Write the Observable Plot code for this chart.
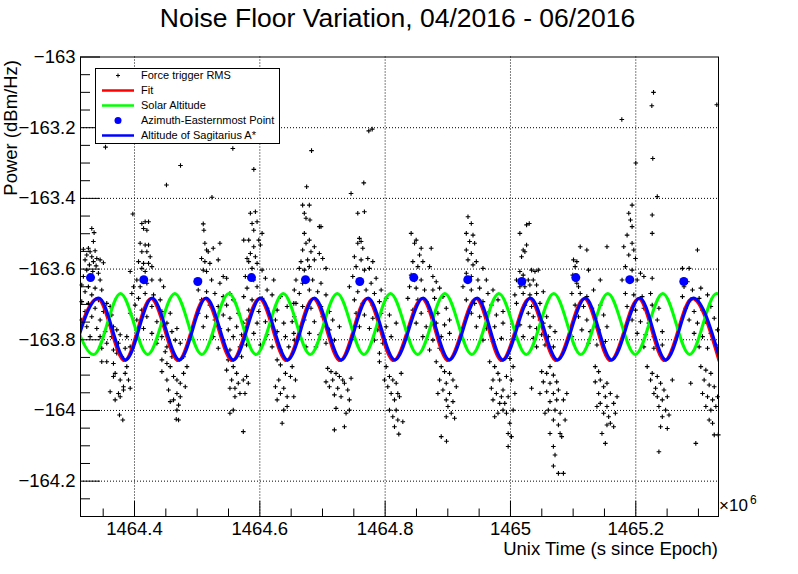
<!DOCTYPE html>
<html><head><meta charset="utf-8">
<script src="https://cdn.jsdelivr.net/npm/d3@7"></script>
<script src="https://cdn.jsdelivr.net/npm/@observablehq/plot@0.6"></script>
<style>body{margin:0;background:#fff;} svg{display:block}</style>
</head><body><div id="chart"></div>
<script>
// ---------- axes ----------
const xDomain = [1464.3138, 1465.332];
const yDomain = [-164.3, -163];
const xMajor = [1464.4, 1464.6, 1464.8, 1465, 1465.2];
const xTickLabels = ["1464.4", "1464.6", "1464.8", "1465", "1465.2"];
const xMinor = [1464.35, 1464.45, 1464.5, 1464.55, 1464.65, 1464.7, 1464.75, 1464.85, 1464.9, 1464.95, 1465.05, 1465.1, 1465.15, 1465.25, 1465.3];
const yMajor = [-163, -163.2, -163.4, -163.6, -163.8, -164, -164.2];
const yTickLabels = ["\u2212163", "\u2212163.2", "\u2212163.4", "\u2212163.6", "\u2212163.8", "\u2212164", "\u2212164.2"];
const yMinor = [-163.05, -163.1, -163.15, -163.25, -163.3, -163.35, -163.45, -163.5, -163.55, -163.65, -163.7, -163.75, -163.85, -163.9, -163.95, -164.05, -164.1, -164.15, -164.25];

// ---------- Altitude of Sagittarius A* (extrema) ----------
const sgrTime = [1464.3000, 1464.3430, 1464.3860, 1464.4282, 1464.4718, 1464.5144, 1464.5580, 1464.6011, 1464.6444, 1464.6872, 1464.7300, 1464.7729, 1464.8155, 1464.8607, 1464.9025, 1464.9469, 1464.9880, 1465.0320, 1465.0752, 1465.1197, 1465.1615, 1465.2064, 1465.2480, 1465.2916, 1465.3347];
const sgrPower = [-163.857, -163.682, -163.857, -163.682, -163.857, -163.682, -163.857, -163.682, -163.857, -163.682, -163.857, -163.682, -163.857, -163.682, -163.857, -163.682, -163.857, -163.682, -163.857, -163.682, -163.857, -163.682, -163.857, -163.682, -163.857];
// ---------- Fit ----------
const fitTime = [1464.2980, 1464.3410, 1464.3840, 1464.4262, 1464.4698, 1464.5124, 1464.5560, 1464.5991, 1464.6424, 1464.6852, 1464.7280, 1464.7709, 1464.8135, 1464.8587, 1464.9005, 1464.9449, 1464.9860, 1465.0300, 1465.0732, 1465.1177, 1465.1595, 1465.2044, 1465.2460, 1465.2896, 1465.3327];
const fitPower = [-163.859, -163.683, -163.859, -163.683, -163.859, -163.683, -163.859, -163.683, -163.859, -163.683, -163.859, -163.683, -163.859, -163.683, -163.859, -163.683, -163.859, -163.683, -163.859, -163.683, -163.859, -163.683, -163.859, -163.683, -163.859];
// ---------- Solar altitude ----------
const solarTime = [1464.2915, 1464.3350, 1464.3776, 1464.4210, 1464.4643, 1464.5074, 1464.5505, 1464.5939, 1464.6373, 1464.6804, 1464.7235, 1464.7661, 1464.8085, 1464.8519, 1464.8952, 1464.9383, 1464.9814, 1465.0252, 1465.0691, 1465.1122, 1465.1553, 1465.1992, 1465.2431, 1465.2860, 1465.3288, 1465.3719];
const solarPower = [-163.669, -163.842, -163.669, -163.842, -163.669, -163.842, -163.669, -163.842, -163.669, -163.842, -163.669, -163.842, -163.669, -163.842, -163.669, -163.842, -163.669, -163.842, -163.669, -163.842, -163.669, -163.842, -163.669, -163.842, -163.669, -163.842];
// ---------- Azimuth-Easternmost Point ----------
const azTime = [1464.3298, 1464.4148, 1464.5010, 1464.5867, 1464.6729, 1464.7595, 1464.8457, 1464.9319, 1465.0181, 1465.1043, 1465.1904, 1465.2766];
const azPower = [-163.624, -163.630, -163.635, -163.624, -163.630, -163.635, -163.624, -163.630, -163.635, -163.624, -163.630, -163.635];

// ---------- Force trigger RMS (time in 1e6 s, power in dBm/Hz) ----------
const rmsDay01 = [[1464.3318,-163.485],[1464.3355,-163.497],[1464.3344,-163.522],[1464.3184,-163.544],[1464.3264,-163.541],[1464.3291,-163.551],[1464.3371,-163.548],[1464.3238,-163.560],[1464.3318,-163.565],[1464.3398,-163.570],[1464.3211,-163.574],[1464.3344,-163.579],[1464.3451,-163.574],[1464.3280,-163.588],[1464.3387,-163.591],[1464.3504,-163.582],[1464.3238,-163.603],[1464.3334,-163.607],[1464.3424,-163.612],[1464.3184,-163.621],[1464.3451,-163.631],[1464.3158,-163.645],[1464.3264,-163.650],[1464.3371,-163.654],[1464.3211,-163.664],[1464.3318,-163.673],[1464.3477,-163.659],[1464.3424,-163.687],[1464.3158,-163.692],[1464.3264,-163.697],[1464.3557,-163.697],[1464.3371,-163.711],[1464.3211,-163.720],[1464.3504,-163.720],[1464.3611,-163.706],[1464.3318,-163.735],[1464.3451,-163.744],[1464.3637,-163.730],[1464.3158,-163.744],[1464.3584,-163.753],[1464.3238,-163.763],[1464.3398,-163.768],[1464.3664,-163.763],[1464.3531,-163.777],[1464.3717,-163.772],[1464.3291,-163.791],[1464.3451,-163.791],[1464.3637,-163.791],[1464.3771,-163.786],[1464.3877,-163.791],[1464.3557,-163.810],[1464.3744,-163.810],[1464.3477,-163.824],[1464.3664,-163.829],[1464.3851,-163.824],[1464.3931,-163.820],[1464.3477,-163.862],[1464.3557,-163.862],[1464.3664,-163.867],[1464.3717,-163.838],[1464.3797,-163.848],[1464.3691,-163.895],[1464.3771,-163.914],[1464.3824,-163.933],[1464.3744,-163.952],[1464.3691,-163.970],[1464.3771,-163.961],[1464.3824,-163.942],[1464.3904,-163.914],[1464.3877,-163.876],[1464.3611,-163.947],[1464.3931,-163.937],[1464.3760,-164.013],[1464.3813,-164.027],[1464.3664,-163.904],[1464.3851,-163.895]];
const rmsDay02 = [[1464.3973,-163.444],[1464.4117,-163.471],[1464.4170,-163.466],[1464.4224,-163.466],[1464.4144,-163.485],[1464.4197,-163.490],[1464.4090,-163.527],[1464.4170,-163.532],[1464.4224,-163.532],[1464.4117,-163.551],[1464.4197,-163.551],[1464.4250,-163.565],[1464.4064,-163.579],[1464.4144,-163.584],[1464.4224,-163.584],[1464.4277,-163.593],[1464.4117,-163.598],[1464.4170,-163.607],[1464.3931,-163.607],[1464.4037,-163.631],[1464.3984,-163.650],[1464.4090,-163.650],[1464.4197,-163.640],[1464.4277,-163.631],[1464.4410,-163.631],[1464.4464,-163.650],[1464.3957,-163.669],[1464.4064,-163.683],[1464.4170,-163.669],[1464.4304,-163.673],[1464.4410,-163.687],[1464.4010,-163.702],[1464.4117,-163.716],[1464.4277,-163.706],[1464.3931,-163.725],[1464.4197,-163.735],[1464.4437,-163.720],[1464.4570,-163.725],[1464.4037,-163.744],[1464.4357,-163.749],[1464.4517,-163.753],[1464.4144,-163.768],[1464.4277,-163.782],[1464.4437,-163.791],[1464.4597,-163.777],[1464.4677,-163.768],[1464.4357,-163.810],[1464.4517,-163.820],[1464.4650,-163.801],[1464.4730,-163.810],[1464.4490,-163.834],[1464.4437,-163.857],[1464.4517,-163.867],[1464.4570,-163.876],[1464.4623,-163.904],[1464.4677,-163.914],[1464.4730,-163.923],[1464.4543,-163.942],[1464.4677,-163.952],[1464.4730,-163.961],[1464.4623,-163.970],[1464.4570,-163.975],[1464.4703,-163.985],[1464.4677,-163.999],[1464.4703,-164.027],[1464.4666,-164.025],[1464.4783,-163.895],[1464.4837,-163.876],[1464.4437,-163.890],[1464.4597,-163.848],[1464.4783,-163.848],[1464.4517,-163.914],[1464.4810,-163.933]];
const rmsDay03 = [[1464.5097,-163.472],[1464.5107,-163.490],[1464.5123,-163.527],[1464.5150,-163.546],[1464.5176,-163.551],[1464.5256,-163.541],[1464.5363,-163.527],[1464.5070,-163.570],[1464.5123,-163.579],[1464.5203,-163.584],[1464.5336,-163.574],[1464.5097,-163.603],[1464.5150,-163.607],[1464.5416,-163.621],[1464.5043,-163.631],[1464.5230,-163.631],[1464.5363,-163.640],[1464.5470,-163.626],[1464.5017,-163.659],[1464.5150,-163.664],[1464.5283,-163.669],[1464.5416,-163.678],[1464.5523,-163.669],[1464.5070,-163.687],[1464.5203,-163.702],[1464.5336,-163.706],[1464.5470,-163.702],[1464.5576,-163.687],[1464.5017,-163.725],[1464.5150,-163.735],[1464.5283,-163.744],[1464.5416,-163.730],[1464.5523,-163.739],[1464.5656,-163.725],[1464.5097,-163.763],[1464.5363,-163.768],[1464.5496,-163.772],[1464.5630,-163.763],[1464.5736,-163.753],[1464.5256,-163.791],[1464.5416,-163.801],[1464.5576,-163.791],[1464.5709,-163.786],[1464.5336,-163.824],[1464.5523,-163.829],[1464.5683,-163.820],[1464.5789,-163.815],[1464.5496,-163.857],[1464.5576,-163.876],[1464.5630,-163.895],[1464.5550,-163.914],[1464.5656,-163.923],[1464.5523,-163.937],[1464.5683,-163.952],[1464.5603,-163.961],[1464.5736,-163.914],[1464.5789,-163.904],[1464.5576,-163.999],[1464.5523,-164.008],[1464.5736,-164.060],[1464.5816,-163.923],[1464.5470,-163.886],[1464.5709,-163.848],[1464.5603,-163.937],[1464.5763,-163.952]];
const rmsDay04 = [[1464.5849,-163.442],[1464.5929,-163.438],[1464.5876,-163.471],[1464.5956,-163.466],[1464.5903,-163.490],[1464.6036,-163.499],[1464.5743,-163.518],[1464.5823,-163.518],[1464.5983,-163.518],[1464.5903,-163.537],[1464.6009,-163.532],[1464.5849,-163.556],[1464.5929,-163.565],[1464.5796,-163.570],[1464.5823,-163.579],[1464.5956,-163.584],[1464.5876,-163.598],[1464.6036,-163.603],[1464.5769,-163.621],[1464.5903,-163.631],[1464.6089,-163.626],[1464.6222,-163.631],[1464.5796,-163.654],[1464.5956,-163.650],[1464.6116,-163.659],[1464.5743,-163.678],[1464.5876,-163.687],[1464.6036,-163.683],[1464.6196,-163.673],[1464.6329,-163.678],[1464.5823,-163.716],[1464.5983,-163.720],[1464.6116,-163.711],[1464.6276,-163.716],[1464.6436,-163.706],[1464.6542,-163.697],[1464.5796,-163.744],[1464.5956,-163.753],[1464.6089,-163.749],[1464.6249,-163.744],[1464.6382,-163.753],[1464.6516,-163.749],[1464.5903,-163.782],[1464.6116,-163.786],[1464.6276,-163.777],[1464.6409,-163.791],[1464.6542,-163.782],[1464.6009,-163.815],[1464.6196,-163.820],[1464.6329,-163.829],[1464.6462,-163.820],[1464.6276,-163.857],[1464.6329,-163.871],[1464.6409,-163.895],[1464.6489,-163.904],[1464.6302,-163.914],[1464.6382,-163.937],[1464.6329,-163.952],[1464.6436,-163.961],[1464.6276,-163.970],[1464.6542,-163.961],[1464.6382,-163.999],[1464.6436,-163.989],[1464.6356,-164.036],[1464.6249,-163.933],[1464.6516,-163.876],[1464.6569,-163.914]];
const rmsDay05 = [[1464.6747,-163.367],[1464.6683,-163.419],[1464.6710,-163.442],[1464.6790,-163.419],[1464.6737,-163.456],[1464.6800,-163.461],[1464.6950,-163.480],[1464.6976,-163.480],[1464.6710,-163.499],[1464.6737,-163.527],[1464.6790,-163.518],[1464.6870,-163.537],[1464.6683,-163.546],[1464.6816,-163.551],[1464.6950,-163.556],[1464.6657,-163.579],[1464.6763,-163.574],[1464.6870,-163.574],[1464.7003,-163.570],[1464.6630,-163.598],[1464.6710,-163.603],[1464.6790,-163.593],[1464.7056,-163.598],[1464.6577,-163.631],[1464.6683,-163.640],[1464.6843,-163.631],[1464.6976,-163.640],[1464.6550,-163.659],[1464.6630,-163.669],[1464.6790,-163.659],[1464.6923,-163.664],[1464.7056,-163.673],[1464.6577,-163.697],[1464.6683,-163.706],[1464.6816,-163.711],[1464.6976,-163.706],[1464.7110,-163.720],[1464.6550,-163.735],[1464.6710,-163.744],[1464.6870,-163.749],[1464.7003,-163.735],[1464.7163,-163.744],[1464.6630,-163.772],[1464.6790,-163.782],[1464.6950,-163.786],[1464.7110,-163.772],[1464.7270,-163.763],[1464.6550,-163.801],[1464.6737,-163.820],[1464.6896,-163.820],[1464.7056,-163.810],[1464.7190,-163.801],[1464.7083,-163.881],[1464.7136,-163.890],[1464.7216,-163.895],[1464.7270,-163.904],[1464.7163,-163.914],[1464.7323,-163.914],[1464.7110,-163.933],[1464.7243,-163.937],[1464.7350,-163.923],[1464.7190,-163.956],[1464.7296,-163.961],[1464.7403,-163.942],[1464.7429,-163.970],[1464.7216,-163.994],[1464.7429,-163.999],[1464.7376,-164.008],[1464.7190,-164.055],[1464.7350,-164.046],[1464.7056,-163.919],[1464.7456,-163.909]];
const rmsDay06 = [[1464.7456,-163.386],[1464.7563,-163.442],[1464.7669,-163.438],[1464.7589,-163.513],[1464.7616,-163.522],[1464.7563,-163.527],[1464.7643,-163.541],[1464.7509,-163.565],[1464.7616,-163.574],[1464.7723,-163.570],[1464.7803,-163.579],[1464.7536,-163.593],[1464.7669,-163.603],[1464.7749,-163.598],[1464.7483,-163.621],[1464.7616,-163.631],[1464.7776,-163.640],[1464.7856,-163.626],[1464.7429,-163.650],[1464.7563,-163.664],[1464.7696,-163.659],[1464.7829,-163.669],[1464.7936,-163.659],[1464.7509,-163.687],[1464.7643,-163.697],[1464.7803,-163.702],[1464.7909,-163.692],[1464.8016,-163.683],[1464.7536,-163.725],[1464.7669,-163.730],[1464.7803,-163.739],[1464.7936,-163.725],[1464.8069,-163.730],[1464.7589,-163.763],[1464.7749,-163.768],[1464.7882,-163.772],[1464.8016,-163.763],[1464.8176,-163.753],[1464.7829,-163.801],[1464.7962,-163.810],[1464.8096,-163.791],[1464.7909,-163.838],[1464.7909,-163.862],[1464.8016,-163.876],[1464.8069,-163.904],[1464.8122,-163.914],[1464.8042,-163.933],[1464.8176,-163.923],[1464.8096,-163.952],[1464.8202,-163.952],[1464.8149,-163.970],[1464.8229,-163.961],[1464.8069,-163.999],[1464.8176,-163.999],[1464.8122,-164.018],[1464.8202,-164.027],[1464.8282,-164.032],[1464.8149,-164.046],[1464.7989,-163.914],[1464.8256,-163.895]];
const rmsDay07 = [[1464.8415,-163.499],[1464.8469,-163.527],[1464.8495,-163.518],[1464.8575,-163.541],[1464.8735,-163.541],[1464.8549,-163.560],[1464.8442,-163.579],[1464.8522,-163.593],[1464.8602,-163.579],[1464.8709,-163.593],[1464.8415,-163.617],[1464.8469,-163.631],[1464.8575,-163.631],[1464.8762,-163.621],[1464.8815,-163.636],[1464.8389,-163.650],[1464.8495,-163.654],[1464.8629,-163.659],[1464.8762,-163.659],[1464.8869,-163.654],[1464.8362,-163.683],[1464.8522,-163.687],[1464.8655,-163.692],[1464.8789,-163.683],[1464.8922,-163.678],[1464.8442,-163.716],[1464.8575,-163.725],[1464.8709,-163.720],[1464.8842,-163.725],[1464.8975,-163.711],[1464.8495,-163.753],[1464.8655,-163.763],[1464.8815,-163.753],[1464.8948,-163.758],[1464.9028,-163.744],[1464.8602,-163.791],[1464.8762,-163.801],[1464.8895,-163.791],[1464.9028,-163.782],[1464.8709,-163.829],[1464.8869,-163.824],[1464.8815,-163.862],[1464.8895,-163.876],[1464.8948,-163.890],[1464.9028,-163.895],[1464.8869,-163.914],[1464.8975,-163.923],[1464.9082,-163.914],[1464.8922,-163.942],[1464.9028,-163.952],[1464.8975,-163.970],[1464.9082,-163.975],[1464.9002,-163.989],[1464.9055,-164.008],[1464.8975,-164.018],[1464.9108,-164.022],[1464.8895,-164.074],[1464.8842,-163.952],[1464.9135,-163.933]];
const rmsDay08 = [[1464.9322,-163.452],[1464.9375,-163.471],[1464.9295,-163.499],[1464.9402,-163.504],[1464.9348,-163.522],[1464.9428,-163.527],[1464.9295,-163.546],[1464.9375,-163.556],[1464.9322,-163.574],[1464.9402,-163.588],[1464.9455,-163.579],[1464.9561,-163.598],[1464.9295,-163.612],[1464.9375,-163.621],[1464.9481,-163.631],[1464.9615,-163.631],[1464.9242,-163.650],[1464.9375,-163.659],[1464.9508,-163.654],[1464.9641,-163.669],[1464.9721,-163.659],[1464.9295,-163.687],[1464.9428,-163.697],[1464.9561,-163.692],[1464.9695,-163.702],[1464.9801,-163.687],[1464.9375,-163.725],[1464.9508,-163.735],[1464.9641,-163.725],[1464.9775,-163.730],[1464.9881,-163.720],[1464.9455,-163.763],[1464.9615,-163.768],[1464.9748,-163.763],[1464.9881,-163.753],[1464.9561,-163.801],[1464.9721,-163.805],[1464.9855,-163.796],[1464.9668,-163.862],[1464.9748,-163.876],[1464.9801,-163.895],[1464.9721,-163.914],[1464.9828,-163.914],[1464.9695,-163.937],[1464.9775,-163.952],[1464.9881,-163.942],[1464.9721,-163.970],[1464.9828,-163.980],[1464.9801,-164.008],[1464.9748,-164.018],[1464.9881,-163.999],[1464.9855,-163.961],[1464.9909,-163.980],[1464.9936,-163.904],[1464.9936,-164.008],[1464.9963,-163.961],[1464.9963,-164.065],[1464.9963,-164.102],[1464.9989,-163.853],[1464.9989,-164.036],[1465.0016,-163.914],[1465.0016,-164.074],[1465.0043,-163.876],[1465.0043,-163.999],[1465.0070,-163.952]];
const rmsDay09 = [[1465.0300,-163.471],[1465.0257,-163.475],[1465.0150,-163.499],[1465.0203,-163.546],[1465.0230,-163.551],[1465.0177,-163.565],[1465.0257,-163.532],[1465.0444,-163.603],[1465.0337,-163.603],[1465.0391,-163.607],[1465.0150,-163.607],[1465.0203,-163.617],[1465.0284,-163.631],[1465.0364,-163.631],[1465.0096,-163.631],[1465.0150,-163.650],[1465.0230,-163.650],[1465.0310,-163.645],[1465.0417,-163.645],[1465.0070,-163.673],[1465.0203,-163.669],[1465.0310,-163.673],[1465.0417,-163.669],[1465.0524,-163.664],[1465.0096,-163.697],[1465.0230,-163.702],[1465.0337,-163.706],[1465.0471,-163.697],[1465.0284,-163.725],[1465.0364,-163.735],[1465.0471,-163.744],[1465.0578,-163.735],[1465.0150,-163.758],[1465.0310,-163.763],[1465.0417,-163.768],[1465.0524,-163.753],[1465.0631,-163.763],[1465.0203,-163.791],[1465.0364,-163.796],[1465.0498,-163.786],[1465.0604,-163.791],[1465.0711,-163.777],[1465.0417,-163.820],[1465.0551,-163.815],[1465.0685,-163.820],[1465.0337,-163.937],[1465.0498,-163.890],[1465.0578,-163.895],[1465.0631,-163.876],[1465.0685,-163.900],[1465.0524,-163.919],[1465.0631,-163.923],[1465.0738,-163.919],[1465.0578,-163.947],[1465.0685,-163.952],[1465.0765,-163.942],[1465.0631,-163.975],[1465.0738,-163.970],[1465.0845,-163.970],[1465.0604,-163.999],[1465.0711,-163.999],[1465.0792,-164.008],[1465.0685,-164.027],[1465.0765,-164.041],[1465.0631,-164.065],[1465.0818,-164.074],[1465.0685,-164.102],[1465.0711,-164.126],[1465.0685,-164.157],[1465.0765,-164.178],[1465.0845,-164.178],[1465.0551,-164.008],[1465.0872,-164.027],[1465.0792,-164.065],[1465.0899,-163.952],[1465.0471,-163.952]];
const rmsDay10 = [[1465.1113,-163.537],[1465.1219,-163.546],[1465.1540,-163.537],[1465.1006,-163.574],[1465.1059,-163.579],[1465.1032,-163.593],[1465.1246,-163.603],[1465.0995,-163.617],[1465.1032,-163.631],[1465.1059,-163.640],[1465.1086,-163.650],[1465.1433,-163.631],[1465.0979,-163.669],[1465.1113,-163.669],[1465.1219,-163.678],[1465.1326,-163.659],[1465.1032,-163.702],[1465.1166,-163.706],[1465.1300,-163.711],[1465.1433,-163.702],[1465.1086,-163.735],[1465.1219,-163.744],[1465.1353,-163.739],[1465.1487,-163.730],[1465.1139,-163.772],[1465.1273,-163.777],[1465.1407,-163.772],[1465.1540,-163.763],[1465.1246,-163.810],[1465.1380,-163.815],[1465.1514,-163.805],[1465.0979,-163.791],[1465.1353,-163.876],[1465.1407,-163.890],[1465.1433,-163.914],[1465.1353,-163.919],[1465.1487,-163.933],[1465.1540,-163.923],[1465.1407,-163.952],[1465.1514,-163.961],[1465.1594,-163.952],[1465.1433,-163.980],[1465.1540,-163.989],[1465.1647,-163.980],[1465.1487,-164.008],[1465.1567,-164.018],[1465.1674,-164.008],[1465.1540,-164.041],[1465.1647,-164.046],[1465.1514,-164.093],[1465.1594,-164.036],[1465.1380,-163.989],[1465.1701,-163.961],[1465.1460,-164.065]];
const rmsDay11 = [[1465.1941,-163.419],[1465.1888,-163.442],[1465.1915,-163.461],[1465.1941,-163.480],[1465.1861,-163.504],[1465.1941,-163.527],[1465.1808,-163.537],[1465.1968,-163.546],[1465.1888,-163.560],[1465.1995,-163.570],[1465.1834,-163.593],[1465.1941,-163.603],[1465.2075,-163.612],[1465.1781,-163.631],[1465.1915,-163.636],[1465.2022,-163.631],[1465.2129,-163.621],[1465.2262,-163.626],[1465.1834,-163.669],[1465.1968,-163.673],[1465.2102,-163.678],[1465.2236,-163.669],[1465.1861,-163.706],[1465.1995,-163.716],[1465.2129,-163.711],[1465.2262,-163.702],[1465.2369,-163.711],[1465.1941,-163.744],[1465.2075,-163.749],[1465.2209,-163.753],[1465.2343,-163.744],[1465.2022,-163.782],[1465.2155,-163.786],[1465.2289,-163.791],[1465.2423,-163.777],[1465.2129,-163.820],[1465.2289,-163.824],[1465.2423,-163.815],[1465.2262,-163.447],[1465.2262,-163.499],[1465.2343,-163.395],[1465.2182,-163.876],[1465.2262,-163.895],[1465.2343,-163.904],[1465.2236,-163.914],[1465.2396,-163.923],[1465.2316,-163.937],[1465.2450,-163.942],[1465.2343,-163.961],[1465.2423,-163.970],[1465.2503,-163.961],[1465.2369,-163.989],[1465.2476,-163.999],[1465.2423,-164.018],[1465.2530,-164.013],[1465.2396,-164.046],[1465.2503,-164.051],[1465.2369,-164.117],[1465.2583,-163.914],[1465.2289,-163.952]];
const rmsDay12 = [[1465.2744,-163.598],[1465.2851,-163.598],[1465.2984,-163.546],[1465.2824,-163.636],[1465.2770,-163.650],[1465.2904,-163.659],[1465.3038,-163.654],[1465.2744,-163.678],[1465.2877,-163.687],[1465.3011,-163.683],[1465.3145,-163.673],[1465.2797,-163.711],[1465.2931,-163.720],[1465.3065,-163.716],[1465.3198,-163.706],[1465.2851,-163.744],[1465.2984,-163.753],[1465.3118,-163.749],[1465.3252,-163.739],[1465.2931,-163.782],[1465.3065,-163.791],[1465.3198,-163.782],[1465.3305,-163.772],[1465.3011,-163.820],[1465.3145,-163.824],[1465.3278,-163.815],[1465.3038,-163.876],[1465.3118,-163.886],[1465.3198,-163.895],[1465.3091,-163.914],[1465.3171,-163.928],[1465.3252,-163.933],[1465.3065,-163.952],[1465.3145,-163.961],[1465.3225,-163.970],[1465.3305,-163.961],[1465.3118,-163.989],[1465.3198,-163.999],[1465.3278,-163.989],[1465.3171,-164.027],[1465.3225,-164.036],[1465.3252,-164.069],[1465.2958,-164.093],[1465.3316,-164.069],[1465.2877,-163.923]];
const rmsOutliers = [[1464.3537,-163.255],[1464.5569,-163.259],[1464.4734,-163.307],[1464.5904,-163.318],[1464.4510,-163.362],[1464.6825,-163.265],[1464.7739,-163.209],[1464.7793,-163.204],[1464.7659,-163.356],[1465.2283,-163.100],[1465.2256,-163.138],[1465.3293,-163.135],[1465.1777,-163.177],[1465.2271,-163.287],[1465.2000,-163.300],[1464.5236,-163.397],[1464.8218,-164.067],[1464.8979,-164.087]];

// ---------- build ----------
const W = 798, H = 574, ML = 80, MR = 80, MT = 56.5, MB = 58;
const FW = W - ML - MR, FH = H - MT - MB;
const FONT = "'Liberation Sans', Arial, Helvetica, sans-serif";

const rms = [rmsDay01, rmsDay02, rmsDay03, rmsDay04, rmsDay05, rmsDay06, rmsDay07, rmsDay08, rmsDay09, rmsDay10, rmsDay11, rmsDay12, rmsOutliers]
  .flat().map(([t, p]) => ({t, p}));
const zip = (T, P) => T.map((t, i) => ({t, p: P[i]}));
const sgr = zip(sgrTime, sgrPower), fit = zip(fitTime, fitPower), solar = zip(solarTime, solarPower), az = zip(azTime, azPower);
const xLab = new Map(xMajor.map((v, i) => [v, xTickLabels[i]]));
const yLab = new Map(yMajor.map((v, i) => [v, yTickLabels[i]]));

const svgEl = Plot.plot({
  width: W, height: H,
  marginLeft: ML, marginRight: MR, marginTop: MT, marginBottom: MB,
  style: {fontFamily: FONT, fontSize: "18.5px", background: "white", color: "black", overflow: "visible"},
  x: {domain: xDomain},
  y: {domain: yDomain},
  marks: [
    Plot.ruleX(xMajor, {stroke: "black", strokeWidth: 1, strokeDasharray: "1,2"}),
    Plot.ruleY(yMajor.filter(v => v !== -163), {stroke: "black", strokeWidth: 1, strokeDasharray: "1,2"}),
    Plot.dot(rms, {x: "t", y: "p", symbol: "plus", r: 1.6, stroke: "black", strokeWidth: 1.1}),
    Plot.line(fit, {x: "t", y: "p", stroke: "#ff0000", strokeWidth: 3, curve: "monotone-x", clip: true}),
    Plot.line(solar, {x: "t", y: "p", stroke: "#00ff00", strokeWidth: 3, curve: "monotone-x", clip: true}),
    Plot.dot(az, {x: "t", y: "p", r: 4.5, fill: "#0000ff", stroke: "none"}),
    Plot.line(sgr, {x: "t", y: "p", stroke: "#0000ff", strokeWidth: 3, curve: "monotone-x", clip: true}),
    Plot.ruleY(yMajor, {stroke: "black", strokeWidth: 1, insetRight: FW - 20}),
    Plot.ruleY(yMinor, {stroke: "black", strokeWidth: 1, insetRight: FW - 10}),
    Plot.ruleX(xMajor, {stroke: "black", strokeWidth: 1, insetTop: FH - 15}),
    Plot.ruleX(xMinor, {stroke: "black", strokeWidth: 1, insetTop: FH - 7.5}),
    Plot.frame({stroke: "black", strokeWidth: 1}),
    Plot.axisX({ticks: xMajor, tickSize: 0, tickPadding: 5, tickFormat: d => xLab.get(d), label: null, anchor: "bottom"}),
    Plot.axisY({ticks: yMajor, tickSize: 0, tickPadding: 5, tickFormat: d => yLab.get(d), label: null, anchor: "left"})
  ]
});
document.getElementById("chart").appendChild(svgEl);

// ---------- titles & legend (decoration) ----------
const svg = d3.select(svgEl);
const g = svg.append("g").attr("font-family", FONT).attr("fill", "black");
g.append("text").attr("x", 397.5).attr("y", 27).attr("text-anchor", "middle").attr("font-size", 26.5)
  .text("Noise Floor Variation, 04/2016 - 06/2016");
g.append("text").attr("transform", "translate(16.5,60) rotate(-90)").attr("text-anchor", "end").attr("font-size", 18.5)
  .text("Power (dBm/Hz)");
g.append("text").attr("x", W - MR).attr("y", 555).attr("text-anchor", "end").attr("font-size", 18.5)
  .text("Unix Time (s since Epoch)");
g.append("text").attr("x", 719).attr("y", 511).attr("text-anchor", "start").attr("font-size", 17).text("\u00d710");
g.append("text").attr("x", 750).attr("y", 504).attr("text-anchor", "start").attr("font-size", 12).text("6");

const lg = svg.append("g").attr("font-family", FONT).attr("text-anchor", "start");
lg.append("rect").attr("x", 95.5).attr("y", 68.5).attr("width", 184).attr("height", 75)
  .attr("fill", "white").attr("stroke", "black").attr("stroke-width", 1);
const rows = [
  {label: "Force trigger RMS", kind: "plus"},
  {label: "Fit", kind: "line", color: "#ff0000"},
  {label: "Solar Altitude", kind: "line", color: "#00ff00"},
  {label: "Azimuth-Easternmost Point", kind: "dot", color: "#0000ff"},
  {label: "Altitude of Sagitarius A*", kind: "line", color: "#0000ff"}
];
rows.forEach((r, i) => {
  const y = 75.5 + i * 15;
  if (r.kind === "line") {
    lg.append("line").attr("x1", 102).attr("x2", 134).attr("y1", y).attr("y2", y)
      .attr("stroke", r.color).attr("stroke-width", 2.5);
  } else if (r.kind === "dot") {
    lg.append("circle").attr("cx", 118).attr("cy", y).attr("r", 3.5).attr("fill", r.color);
  } else {
    lg.append("path").attr("d", `M116,${y}H120M118,${y - 2}V${y + 2}`).attr("stroke", "black").attr("stroke-width", 1);
  }
  lg.append("text").attr("x", 141).attr("y", y).attr("dy", "0.35em").attr("text-anchor", "start")
    .attr("font-size", 11).attr("fill", "black").text(r.label);
});
</script>
</body></html>
